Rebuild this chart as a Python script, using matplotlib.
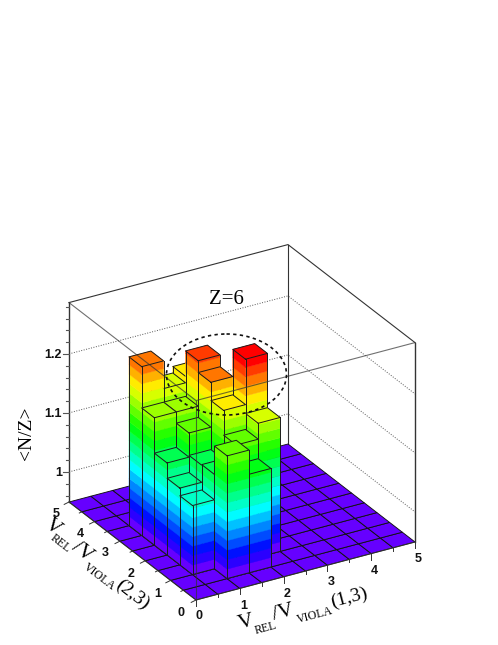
import colorsys
import numpy as np
import matplotlib
matplotlib.use("Agg")
import matplotlib.pyplot as plt
from matplotlib.collections import PolyCollection
from matplotlib.patches import Ellipse

# --- data -----------------------------------------------------------------
x_low = [0.5, 0.5, 0.5, 0.5, 0.5,
         1.0, 1.0, 1.0, 1.0, 1.0, 1.0,
         1.5, 1.5, 1.5, 1.5, 1.5, 1.5,
         2.0, 2.0]
y_low = [1.0, 1.5, 2.0, 2.5, 3.0,
         0.5, 1.0, 1.5, 2.0, 2.5, 3.0,
         0.5, 1.0, 1.5, 2.0, 2.5, 3.0,
         1.0, 1.5]
nz_ratio = [1.066, 1.079, 1.105, 1.165, 1.235,
            1.157, 1.109, 1.108, 1.146, 1.165, 1.188,
            1.116, 1.149, 1.191, 1.222, 1.242, 1.199,
            1.176, 1.268]
axis_ticks = [0, 1, 2, 3, 4, 5]
z_ticks = [1.0, 1.1, 1.2]
z_tick_labels = ["1", "1.1", "1.2"]

BIN = 0.5
Z_MIN, Z_MAX = 0.949, 1.287
LEVELS = 20
LEVEL_MAX = 1.27

# --- projection of the lego box onto the page (pixel frame) ---------------
O = np.array([196.0, 600.0])
EX = np.array([219.0, -58.0]) / 5
EY = np.array([-127.0, -98.0]) / 5
EZ = np.array([0.0, -590.0])


def P(x, y, z):
    return O + x * EX + y * EY + (z - Z_MIN) * EZ


def band_colour(k):
    hue = 264 * (1 - k / (LEVELS - 1))
    return colorsys.hls_to_rgb(hue / 360, 0.5, 1.0)


DZ = (LEVEL_MAX - Z_MIN) / LEVELS

fig = plt.figure(figsize=(4.98, 6.45), dpi=100)
ax = fig.add_axes([0, 0, 1, 1])
ax.set_xlim(0, 498)
ax.set_ylim(645, 0)
ax.axis("off")

WIRE = "#333333"

# back walls
for pts in ([P(0, 5, Z_MAX), P(5, 5, Z_MAX), P(5, 0, Z_MAX)],
            [P(5, 5, Z_MIN), P(5, 5, Z_MAX)]):
    a = np.array(pts)
    ax.plot(a[:, 0], a[:, 1], color=WIRE, lw=0.8, zorder=1)
for z in z_ticks:
    a = np.array([P(0, 5, z), P(5, 5, z), P(5, 0, z)])
    ax.plot(a[:, 0], a[:, 1], color="#555555", lw=0.7, ls=(0, (1, 1.6)), zorder=1)

# floor: every bin at minimum level
floor = [[P(i * BIN, j * BIN, Z_MIN), P((i + 1) * BIN, j * BIN, Z_MIN),
          P((i + 1) * BIN, (j + 1) * BIN, Z_MIN), P(i * BIN, (j + 1) * BIN, Z_MIN)]
         for i in range(10) for j in range(10)]
ax.add_collection(PolyCollection(floor, facecolors=[band_colour(0)], edgecolors="#111111",
                                 linewidths=0.65, zorder=2))

# bars, back to front
order = sorted(range(len(nz_ratio)), key=lambda n: (-x_low[n], -y_low[n]))
zo = 3.0
for n in order:
    x0, y0, top = x_low[n], y_low[n], nz_ratio[n]
    x1, y1 = x0 + BIN, y0 + BIN
    polys, cols = [], []
    kmax = int((top - Z_MIN) / DZ)
    for k in range(kmax + 1):
        lo = Z_MIN + k * DZ
        hi = min(lo + DZ, top)
        col = band_colour(min(k, LEVELS - 1))
        polys.append([P(x0, y0, lo), P(x1, y0, lo), P(x1, y0, hi), P(x0, y0, hi)])
        polys.append([P(x0, y0, lo), P(x0, y1, lo), P(x0, y1, hi), P(x0, y0, hi)])
        cols += [col, col]
    polys.append([P(x0, y0, top), P(x1, y0, top), P(x1, y1, top), P(x0, y1, top)])
    cols.append(band_colour(min(kmax, LEVELS - 1)))
    ax.add_collection(PolyCollection(polys, facecolors=cols, edgecolors=cols,
                                     linewidths=0.3, zorder=zo))
    zo += 0.01
    outline = [[P(x0, y0, top), P(x1, y0, top), P(x1, y1, top), P(x0, y1, top), P(x0, y0, top)],
               [P(x0, y0, Z_MIN), P(x0, y0, top)],
               [P(x1, y0, Z_MIN), P(x1, y0, top)],
               [P(x0, y1, Z_MIN), P(x0, y1, top)],
               [P(x0, y1, Z_MIN), P(x0, y0, Z_MIN), P(x1, y0, Z_MIN)]]
    for seg in outline:
        a = np.array(seg)
        ax.plot(a[:, 0], a[:, 1], color="#1c1c1c", lw=0.7, zorder=zo, solid_joinstyle="round")
    zo += 0.01

# front box lines, overlaid on the bars
for pts in ([P(0, 5, Z_MAX), P(0, 0, Z_MAX), P(5, 0, Z_MAX)],
            [P(0, 0, Z_MIN), P(0, 0, Z_MAX)],
            [P(0, 5, Z_MIN), P(0, 0, Z_MIN), P(5, 0, Z_MIN)]):
    a = np.array(pts)
    ax.plot(a[:, 0], a[:, 1], color=WIRE, lw=0.8, alpha=0.7, zorder=20)
for pts in ([P(0, 5, Z_MIN), P(0, 5, Z_MAX)], [P(5, 0, Z_MIN), P(5, 0, Z_MAX)]):
    a = np.array(pts)
    ax.plot(a[:, 0], a[:, 1], color=WIRE, lw=1.0, zorder=20)

# ticks
for v in np.arange(0, 5.01, 0.5):
    major = abs(v - round(v)) < 1e-6
    L = 6 if major else 3
    a = P(v, 0, Z_MIN)
    ax.plot([a[0], a[0] + 0.0], [a[1], a[1] + L], color=WIRE, lw=0.7, zorder=21)
    b = P(0, v, Z_MIN)
    ax.plot([b[0], b[0] - L * 0.8], [b[1], b[1] + L * 0.4], color=WIRE, lw=0.7, zorder=21)
for z in np.arange(0.96, 1.2801, 0.02):
    major = abs((z * 10) - round(z * 10)) < 1e-6
    a = P(0, 5, z)
    ax.plot([a[0], a[0] - (6 if major else 3)], [a[1], a[1]], color="#555555", lw=0.8, zorder=21)

# tick labels
lab = dict(family="Liberation Sans", fontsize=9, fontweight="bold", ha="center", va="center",
           color="#111111", zorder=22)
x_lab_xy = [(199, 616), (244, 606), (287, 594), (331, 582), (374, 571), (418, 559)]
y_lab_xy = [(181, 613), (158, 594), (131, 574), (105, 553), (80, 534), (56, 514)]
for t, q in zip(axis_ticks, x_lab_xy):
    ax.text(q[0], q[1], str(t), **lab)
for t, q in zip(axis_ticks, y_lab_xy):
    ax.text(q[0], q[1], str(t), **lab)
for z, s in zip(z_ticks, z_tick_labels):
    a = P(0, 5, z)
    ax.text(62, a[1] + 1, s, family="Liberation Sans", fontsize=9, fontweight="bold", ha="right",
            va="center", color="#111111")

# axis titles
serif = dict(family="Liberation Serif", color="black", ha="center", va="center",
             rotation_mode="anchor")
rx = 14.8
for s, q, fs in (("V", (246, 623), 15.5), ("REL", (266, 628), 8.5), ("/V", (283, 613), 15.5),
                 ("VIOLA", (315, 615), 8.6), ("(1,3)", (349, 598), 14)):
    ax.text(q[0], q[1], s, fontsize=fs, rotation=rx, **serif)
ry = -37.6
for s, q, fs in (("V", (53, 527), 15.5), ("REL", (60, 543), 8.5), ("/V", (82, 552), 15.5),
                 ("VIOLA", (99, 577), 8.6), ("(2,3)", (132, 595), 14)):
    ax.text(q[0], q[1], s, fontsize=fs, rotation=ry, **serif)
ax.text(26, 433, "<N/Z>", fontsize=14, rotation=90, **serif)
ax.text(226, 300, "Z=6", fontsize=15, **serif)

ax.add_patch(Ellipse((226.5, 374.5), 120, 81, fill=False, ec="#111111", lw=1.2,
                     ls=(0, (2, 2)), zorder=30))

fig.savefig("out.png", dpi=100)
